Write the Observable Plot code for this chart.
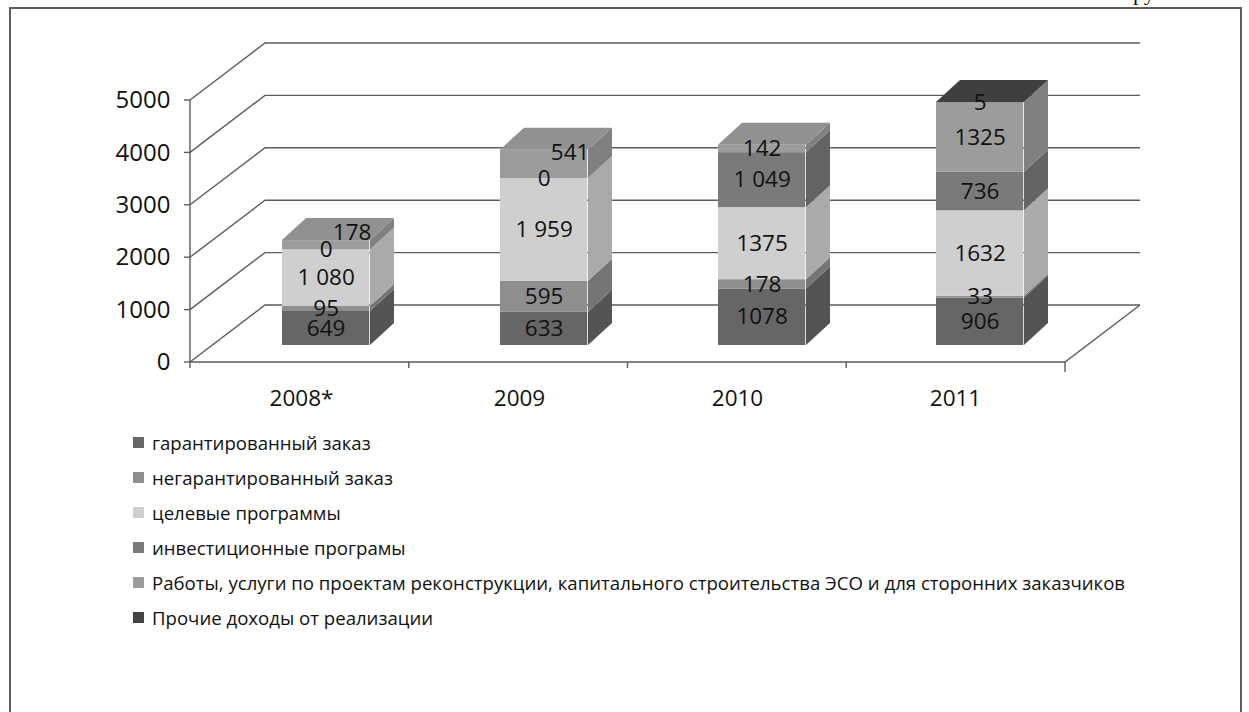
<!DOCTYPE html>
<html><head><meta charset="utf-8">
<script src="https://cdn.jsdelivr.net/npm/d3@7"></script>
<script src="https://cdn.jsdelivr.net/npm/@observablehq/plot@0.6"></script>
<style>
html,body{margin:0;padding:0;background:#fff;width:1249px;height:712px;overflow:hidden;position:relative;}
#frame{position:absolute;left:9px;top:7px;width:1233px;height:760px;border:2px solid #5e5e5e;box-sizing:border-box;}
#chart{position:absolute;left:0;top:0;}
#top{position:absolute;left:1133px;top:-18px;font:22px "Liberation Serif",serif;line-height:22px;color:#111;}
#legend{position:absolute;left:133px;top:425px;font-family:"Open Sans",sans-serif;font-size:18.6px;color:#111;}
#legend .row{height:35px;display:flex;align-items:center;white-space:nowrap;}
#legend .sw{width:11px;height:11px;margin-right:8px;flex:none;}
</style></head><body>
<div id="top">ру</div>
<div id="frame"></div>
<div id="chart"></div>
<div id="legend"></div>
<script>
const years = ["2008*", "2009", "2010", "2011"];
const seriesNames = [
  "гарантированный заказ",
  "негарантированный заказ",
  "целевые программы",
  "инвестиционные програмы",
  "Работы, услуги по проектам реконструкции, капитального строительства ЭСО и для сторонних заказчиков",
  "Прочие доходы от реализации"
];
const guaranteed     = [649, 633, 1078, 906];
const nonGuaranteed  = [95, 595, 178, 33];
const targetPrograms = [1080, 1959, 1375, 1632];
const investPrograms = [0, 0, 1049, 736];
const worksServices  = [178, 541, 142, 1325];
const otherIncome    = [null, null, null, 5];
const yTicks = [0, 1000, 2000, 3000, 4000, 5000];
const groupedLabels = ["1 080", "1 959", "1 049"];
const seriesColors = ["#666666", "#8e8e8e", "#cfcfcf", "#7a7a7a", "#9c9c9c", "#444444"];
const movedLabelKeys = ["2008*|4", "2009|4"];

const seriesValues = [guaranteed, nonGuaranteed, targetPrograms, investPrograms, worksServices, otherIncome];

// build stacked rows
const rows = [];
years.forEach((year, i) => {
  let acc = 0;
  seriesValues.forEach((vals, j) => {
    const v = vals[i];
    const val = v == null ? 0 : v;
    const spaced = String(val).replace(/\B(?=(\d{3})+(?!\d))/g, " ");
    const label = v == null ? "" : (groupedLabels.includes(spaced) ? spaced : String(val));
    rows.push({year, series: seriesNames[j], si: j, value: val, y1: acc, y2: acc + val, mid: acc + val / 2, label, has: v != null, key: year + "|" + j});
    acc += val;
  });
});
const topRows = years.map(y => rows.filter(r => r.year === y && r.has).slice(-1)[0]);
const normalLabels = rows.filter(r => r.label !== "" && !movedLabelKeys.includes(r.key));
const movedLabels = rows.filter(r => r.label !== "" && movedLabelKeys.includes(r.key));

const W = 1249, H = 430;
const ML = 190, MR = W - 1065, MT = 100, MB = H - 362;
const wallDX = 75, wallDY = -57;     // back wall depth
const barDX = 24, barDY = -22;       // bar depth
const barLift = -17;                 // bar sits mid-depth on the floor
const insetL = 90, faceW = 88;
const lineColor = "#5c5c5c";

function svgEl(name) { return document.createElementNS("http://www.w3.org/2000/svg", name); }
function poly(g, pts, fill, stroke) {
  const p = svgEl("path");
  p.setAttribute("d", "M" + pts.map(q => q.join(",")).join("L") + (fill === "none" ? "" : "Z"));
  p.setAttribute("fill", fill);
  if (stroke) { p.setAttribute("stroke", stroke); p.setAttribute("stroke-width", 1.4); }
  g.appendChild(p);
}

// back wall, floor and axes drawn through scales
function wallMark(index, scales, values, dims) {
  const g = svgEl("g");
  const y = scales.y;
  const x0 = dims.marginLeft, x1 = dims.width - dims.marginRight;
  for (const t of yTicks) {
    const yy = y(t);
    poly(g, [[x0, yy], [x0 + wallDX, yy + wallDY], [x1 + wallDX, yy + wallDY]], "none", lineColor);
    poly(g, [[x0 - 6, yy], [x0, yy]], "none", lineColor);
  }
  const y0 = y(0);
  poly(g, [[x0, y0], [x1, y0], [x1 + wallDX, y0 + wallDY]], "none", lineColor);
  poly(g, [[x0, y(yTicks[yTicks.length - 1])], [x0, y0 + 6]], "none", lineColor);
  const bw = (x1 - x0) / years.length;
  for (let i = 1; i <= years.length; i++) {
    poly(g, [[x0 + i * bw, y0], [x0 + i * bw, y0 + (i === years.length ? 10 : 6)]], "none", lineColor);
  }
  return g;
}

function barFacesMark(index, scales) {
  const g = svgEl("g");
  const x = scales.x, y = scales.y;
  const color = scales.color;
  for (const r of rows) {
    if (!r.has || r.value <= 0) continue;
    const xl = x(r.year) + insetL, xr = xl + faceW;
    const yb = y(r.y1) + barLift, yt = y(r.y2) + barLift;
    const c = d3.color(color(r.series)).darker(0.55).formatHex();
    poly(g, [[xr, yb], [xr + barDX, yb + barDY], [xr + barDX, yt + barDY], [xr, yt]], c);
  }
  for (const r of topRows) {
    const xl = x(r.year) + insetL, xr = xl + faceW;
    const yt = y(r.y2) + barLift;
    const c = d3.color(color(r.series)).darker(0.2).formatHex();
    poly(g, [[xl, yt], [xl + barDX, yt + barDY], [xr + barDX, yt + barDY], [xr, yt]], c);
  }
  return g;
}

const font = "Open Sans";
const bandW = (W - ML - MR) / years.length;
const chart = Plot.plot({
  width: W, height: H,
  marginLeft: ML, marginRight: MR, marginTop: MT, marginBottom: MB,
  style: {fontFamily: font, background: "transparent", overflow: "visible"},
  x: {domain: years, padding: 0, axis: null},
  y: {domain: [0, 5000], axis: null},
  color: {domain: seriesNames, range: seriesColors},
  marks: [
    wallMark,
    barFacesMark,
    Plot.barY(rows.filter(r => r.has && r.value > 0), {
      x: "year", y1: "y1", y2: "y2", fill: "series",
      insetLeft: insetL, insetRight: bandW - insetL - faceW, dy: barLift
    }),
    Plot.text(normalLabels, {x: "year", y: "mid", text: "label", dx: insetL + faceW / 2 - bandW / 2, dy: barLift, fontSize: 22.5, fill: "#111"}),
    Plot.text(movedLabels, {x: "year", y: "mid", text: "label", dx: insetL + faceW / 2 - bandW / 2 + 26, dy: barLift - 12, fontSize: 22.5, fill: "#111"}),
    Plot.text(yTicks, {y: d => d, text: d => String(d), frameAnchor: "left", textAnchor: "end", dx: -20, fontSize: 24, fill: "#111"}),
    Plot.text(years, {x: d => d, text: d => d, frameAnchor: "bottom", dy: 43, fontSize: 22.5, fill: "#111"})
  ]
});
document.getElementById("chart").appendChild(chart);

const legend = document.getElementById("legend");
seriesNames.forEach((name, i) => {
  const row = document.createElement("div");
  row.className = "row";
  const sw = document.createElement("span");
  sw.className = "sw";
  sw.style.background = seriesColors[i];
  const t = document.createElement("span");
  t.textContent = name;
  row.appendChild(sw); row.appendChild(t);
  legend.appendChild(row);
});
</script>
</body></html>
